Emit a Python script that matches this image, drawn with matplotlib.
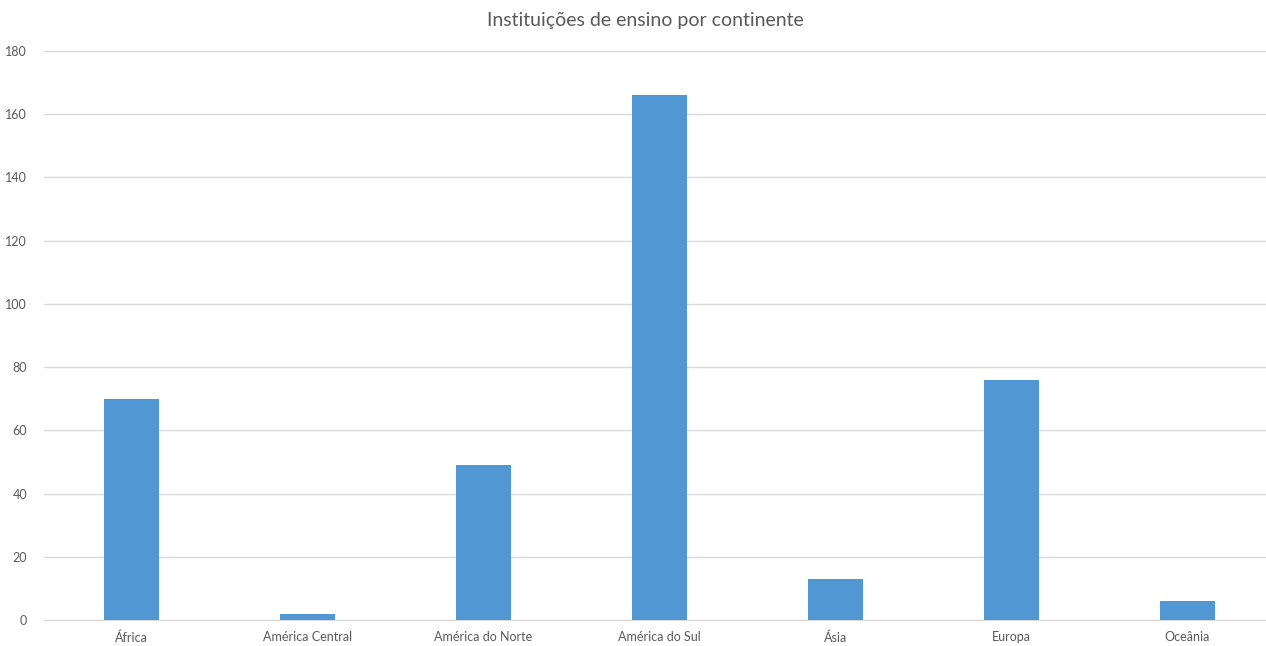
import matplotlib.pyplot as plt

# Data
continentes = ["África", "América Central", "América do Norte", "América do Sul",
               "Ásia", "Europa", "Oceânia"]
instituicoes = [70, 2, 49, 166, 13, 76, 6]
y_ticks = [0, 20, 40, 60, 80, 100, 120, 140, 160, 180]

plt.rcParams['font.family'] = ['Lato', 'DejaVu Sans']

fig = plt.figure(figsize=(12.66, 6.46), dpi=100)
ax = fig.add_axes([0.0345, 0.0402, 0.973, 0.8808])

x = range(len(continentes))
ax.bar(x, instituicoes, width=0.3125, color='#5097D3', zorder=3)

ax.set_xlim(-0.5, len(continentes) - 0.5)
ax.set_ylim(0, 180)
ax.set_yticks(y_ticks)
ax.set_xticks(list(x))
ax.set_xticklabels(continentes)

ax.grid(axis='y', color='#D9D9D9', linewidth=1, zorder=0)
for s in ['top', 'right', 'left']:
    ax.spines[s].set_visible(False)
ax.spines['bottom'].set_color('#D9D9D9')
ax.tick_params(length=0, colors='#595959', labelsize=9)
ax.tick_params(axis='x', pad=8)
ax.tick_params(axis='y', pad=12)

# title centred over the plot area, not the figure
fig.suptitle("Instituições de ensino por continente", x=0.51, y=0.982,
             fontsize=14, color='#595959')

plt.savefig("out.png", dpi=100)
